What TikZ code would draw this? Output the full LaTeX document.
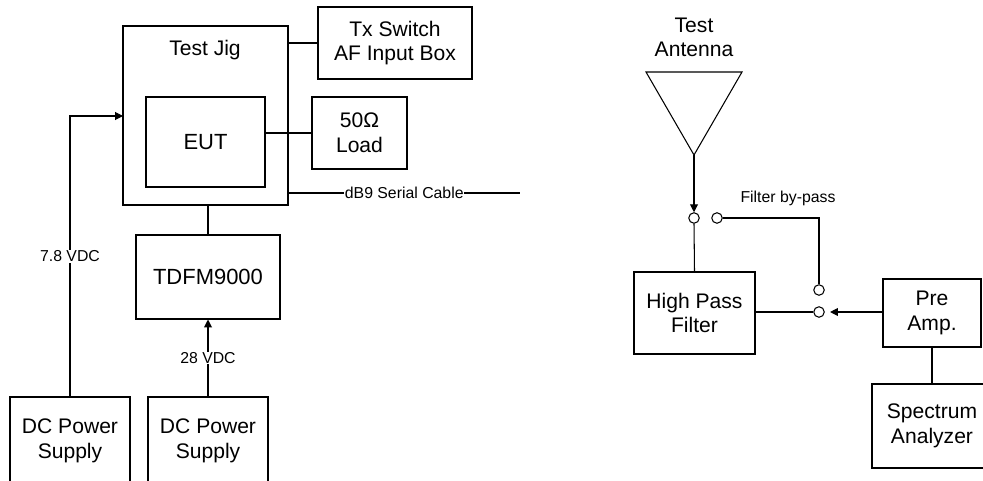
\documentclass[tikz,border=0pt]{standalone}
\usepackage{fontspec}
\setmainfont{Liberation Sans}
\usetikzlibrary{arrows.meta}

\tikzset{
  blk/.style={draw, line width=0.6pt, align=center, inner sep=0pt,
    font=\fontsize{12}{14}\selectfont},
  big/.style={font=\fontsize{12.5}{14}\selectfont},
  sw/.style={circle, draw, line width=0.6pt, minimum size=0.21cm, inner sep=0pt},
  small/.style={font=\fontsize{9}{10}\selectfont, inner sep=0.5pt},
  tip/.style={-{Triangle[length=4.5pt,width=4.5pt]}}
}

\begin{document}
\begin{tikzpicture}[x=0.02cm, y=-0.02cm, line width=0.6pt]
\useasboundingbox (0,0) rectangle (983,480);
% блоки слева
\node [blk, minimum width=3.30cm, minimum height=3.58cm] (jig) at (205.5,115.5) {};
\node [blk, draw=none] (jigtitle) at (205,50) {Test Jig};
\node [blk, minimum width=3.08cm, minimum height=1.44cm] (tx) at (395,43) {Tx Switch\\AF Input Box};
\node [blk, big, minimum width=2.38cm, minimum height=1.80cm] (eut) at (205.5,142) {EUT};
\node [blk, minimum width=1.90cm, minimum height=1.44cm] (load) at (359.5,133) {50Ω\\Load};
\node [blk, big, minimum width=2.88cm, minimum height=1.68cm] (tdfm) at (208,277) {TDFM9000};
\node [blk, minimum width=2.40cm, minimum height=1.76cm] (dca) at (70,441) {DC Power\\Supply};
\node [blk, minimum width=2.40cm, minimum height=1.76cm] (dcb) at (208,441) {DC Power\\Supply};
\coordinate (jigin) at (123,116);
\coordinate (cable) at (520,193);
% блоки справа
\node [blk, minimum width=2.42cm, minimum height=1.64cm] (hpf) at (694.5,313) {High Pass\\Filter};
\node [blk, minimum width=1.96cm, minimum height=1.36cm] (pre) at (932,313) {Pre\\Amp.};
\node [blk, minimum width=2.40cm, minimum height=1.68cm] (spec) at (932,426) {Spectrum\\Analyzer};
\node [blk, draw=none] (anttitle) at (694,37.5) {Test\\Antenna};
\coordinate (antl) at (646,72);
\coordinate (antr) at (742,72);
\coordinate (ant) at (694,155);
\draw (antl) -- (antr) -- (ant) -- cycle;
% переключатель
\node [sw] (s1) at (694,218) {};
\node [sw] (s2) at (717,218) {};
\node [sw] (s3) at (819,290) {};
\node [sw] (s4) at (819,312) {};
% связи
\draw (jig.east |- tx.west) -- (tx.west);
\draw (eut.east |- load.west) -- (load.west);
\draw (jig.east |- cable) -- node [small, fill=white] {dB9 Serial Cable} (cable);
\draw (tdfm.north |- jig.south) -- (tdfm.north);
\draw [tip] (dca.north) |- node [small, fill=white, pos=0.25] {7.8 VDC} (jigin);
\draw [tip] (dcb.north) -- node [small, fill=white] {28 VDC} (tdfm.south);
\draw [tip] (ant) -- (s1.north);
\draw (s1.south) -- (hpf.north);
\draw (s2.east) -| (s3.north);
\draw (hpf.east |- s4.west) -- (s4.west);
\draw [tip, shorten >=3pt] (pre.west |- s4.east) -- (s4.east);
\draw (pre.south) -- (spec.north);
% подписи
\node [small] (bypass) at (788,198) {Filter by-pass};
\end{tikzpicture}
\end{document}
